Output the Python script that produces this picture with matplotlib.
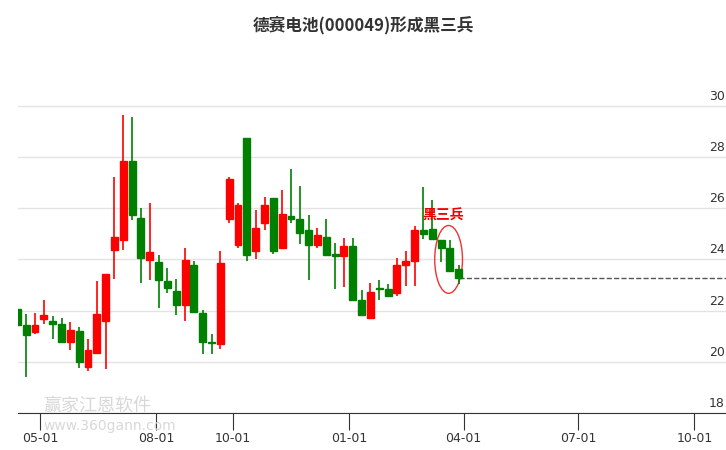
import datetime as dt
import matplotlib
matplotlib.use('Agg')
import matplotlib.pyplot as plt
import matplotlib.dates as mdates
from matplotlib.patches import Ellipse, Rectangle

plt.rcParams['font.family'] = ['Noto Sans CJK SC', 'DejaVu Sans']

start = dt.date(2023, 4, 13)
opens = [22.07, 21.45, 21.15, 21.69, 21.60, 21.48, 20.79, 21.21, 19.78, 20.33,
         21.58, 24.35, 24.74, 27.85, 25.63, 23.96, 23.91, 23.16, 22.77, 22.20,
         23.79, 21.91, 20.78, 20.68, 25.58, 24.58, 28.75, 24.31, 25.44, 26.41,
         24.43, 25.70, 25.59, 25.16, 24.58, 24.88, 24.22, 24.15, 24.53, 22.42,
         21.73, 22.88, 22.85, 22.67, 23.80, 23.93, 25.16, 25.20, 24.77, 24.45, 23.63]
closes = [21.42, 21.03, 21.45, 21.84, 21.46, 20.79, 21.25, 20.01, 20.47, 21.88,
          23.44, 24.88, 27.85, 25.72, 24.04, 24.30, 23.18, 22.90, 22.20, 23.98,
          21.93, 20.79, 20.74, 23.87, 27.13, 26.13, 24.19, 25.23, 26.13, 24.31,
          25.78, 25.56, 25.05, 24.58, 24.96, 24.19, 24.15, 24.53, 22.43, 21.84,
          22.74, 22.85, 22.59, 23.79, 23.95, 25.16, 24.98, 24.78, 24.43, 23.56, 23.29]
highs = [22.62, 21.88, 21.91, 22.42, 21.80, 21.72, 21.56, 21.37, 20.90, 23.14,
         23.44, 27.23, 29.65, 29.57, 26.02, 26.21, 24.18, 23.67, 23.24, 24.45,
         23.95, 22.01, 21.10, 24.34, 27.20, 26.21, 28.75, 25.94, 26.45, 26.41,
         26.72, 27.54, 26.88, 25.74, 25.23, 25.59, 24.65, 24.84, 24.84, 22.82,
         23.09, 23.20, 23.05, 24.06, 24.33, 25.31, 26.84, 26.33, 24.77, 24.77, 23.79]
lows = [20.89, 19.40, 21.07, 21.46, 20.91, 20.79, 20.48, 19.75, 19.66, 20.33,
        19.71, 23.24, 24.35, 25.55, 23.06, 23.18, 22.12, 22.67, 21.81, 21.61,
        21.93, 20.32, 20.32, 20.49, 25.42, 24.43, 23.95, 24.00, 25.13, 24.23,
        24.43, 25.44, 24.62, 23.18, 24.43, 24.19, 22.83, 22.91, 22.36, 21.80,
        21.69, 22.40, 22.59, 22.59, 22.95, 22.95, 24.78, 24.78, 23.88, 23.53, 23.02]
tick_dates = [dt.date(2023, 5, 1), dt.date(2023, 8, 1), dt.date(2023, 10, 1),
              dt.date(2024, 1, 1), dt.date(2024, 4, 1), dt.date(2024, 7, 1),
              dt.date(2024, 10, 1)]
yticks = [18, 20, 22, 24, 26, 28, 30]

dates = [start + dt.timedelta(days=7 * i) for i in range(len(opens))]
xs = mdates.date2num(dates)

fig = plt.figure(figsize=(7.26, 4.5), dpi=100)
ax = fig.add_axes([18 / 726, 1 - 413 / 450, 1 - 18 / 726, 353 / 450])
x0 = mdates.date2num(dt.date(2023, 5, 1))
ax.set_xlim(x0 - 17.5, x0 + 544)
ax.set_ylim(18, 31.79)

for y in yticks:
    ax.axhline(y, color='#e3e3e3', lw=1, zorder=0)
    ax.text(0.998, y + 0.12, str(y), transform=ax.get_yaxis_transform(),
            ha='right', va='bottom', fontsize=9, color='#333333', family='DejaVu Sans')

w = 5.5
for x, o, c, h, l in zip(xs, opens, closes, highs, lows):
    col = '#ff0000' if c >= o else '#008000'
    ax.vlines(x, l, h, color=col, lw=1.2, zorder=2)
    ax.add_patch(Rectangle((x - w / 2, min(o, c)), w, max(abs(c - o), 0.05),
                           color=col, zorder=3))

ax.plot([xs[-1], ax.get_xlim()[1]], [closes[-1]] * 2, ls='--', color='#555555', lw=1)
ax.add_patch(Ellipse((xs[-2] - 1, 24.0), 22, 2.65, fill=False, ec='#ee3333', lw=1))
ax.text(xs[-2] - 5, 25.7, '黑三兵', color='#ee0000', fontsize=10, fontweight='bold',
        ha='center', va='center')

for s in ['top', 'right', 'left']:
    ax.spines[s].set_visible(False)
ax.spines['bottom'].set_color('#333333')
ax.set_yticks([])
ax.set_xticks(mdates.date2num(tick_dates))
ax.set_xticklabels([d.strftime('%m-%d') for d in tick_dates], fontsize=9, color='#333333',
                   family='DejaVu Sans')
ax.tick_params(axis='x', length=12, color='#333333', pad=2)

# watermark
fig.text(0.06, 0.088, '赢家江恩软件', fontsize=13, color='#d8d8d8')
fig.text(0.06, 0.045, 'www.360gann.com', fontsize=10, color='#d8d8d8', family='DejaVu Sans')
fig.text(0.5, 0.945, '德赛电池(000049)形成黑三兵', ha='center', va='center',
         fontsize=12, fontweight='bold', color='#333333')

fig.savefig('out.png', dpi=100)
